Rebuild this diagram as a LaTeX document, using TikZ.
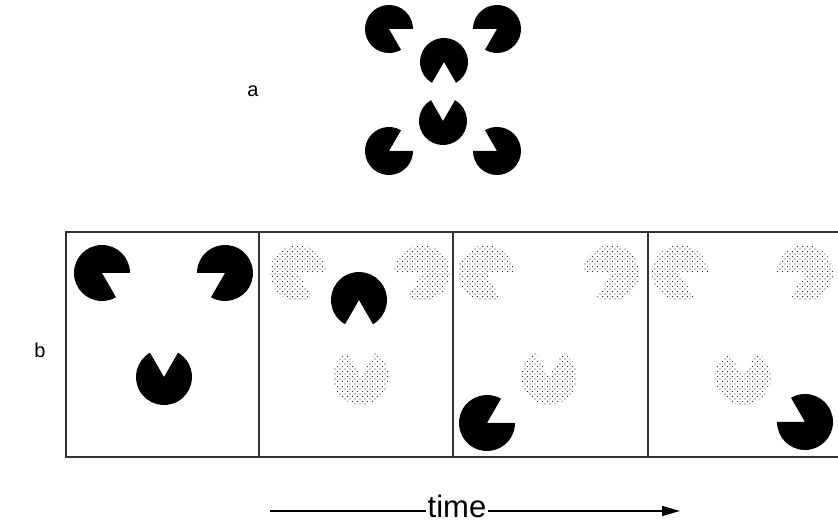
\documentclass[tikz,border=0pt]{standalone}
\usepackage{fontspec}
\setmainfont{Liberation Sans}
\usetikzlibrary{patterns,arrows.meta}
\pgfdeclarepatternformonly{stipdots}{\pgfqpoint{-1pt}{-1pt}}{\pgfqpoint{4pt}{4pt}}{\pgfqpoint{5pt}{5pt}}{%
  \pgfpathcircle{\pgfqpoint{0pt}{0pt}}{0.7pt}%
  \pgfpathcircle{\pgfqpoint{2.5pt}{2.5pt}}{0.7pt}%
  \pgfusepath{fill}}
\newcommand{\pacman}[5][solidpac]{%
  \path[#1] (#2) -- ++(#5:#3) arc[start angle=#5, end angle={#4+360}, radius=#3] -- cycle;}
\tikzset{
  solidpac/.style={fill=black},
  dotpac/.style={pattern=stipdots, pattern color=black!85},
  framebox/.style={draw=black!80, line width=1.2pt},
  lbl/.style={font=\fontsize{20}{20}\selectfont, inner sep=0pt},
}
\begin{document}
\begin{tikzpicture}[x=1pt,y=1pt]
\useasboundingbox (0,0) rectangle (838,524);
\clip (0,0) rectangle (838,524);
% part a
\node[lbl] (la) at (253,433) {a};
\pacman{389,495}{24}{-60}{0}
\pacman{497,495}{24}{180}{240}
\pacman{444,462}{24}{240}{300}
\pacman{443,403}{24}{60}{120}
\pacman{389,373}{24}{0}{60}
\pacman{497,373}{24}{120}{180}
% part b
\node[lbl] (lb) at (40,174) {b};
\draw[framebox] (842,292) -- (66,292) -- (66,67) -- (842,67);
\draw[framebox] (259,292) -- (259,67);
\draw[framebox] (453,292) -- (453,67);
\draw[framebox] (648,292) -- (648,67);
% panel 1
\pacman{102,251}{28}{-60}{0}
\pacman{225,251}{28}{180}{240}
\pacman{164,147}{28}{60}{120}
% panel 2
\pacman[dotpac]{298,251}{28}{-60}{0}
\pacman[dotpac]{422,251}{28}{180}{240}
\pacman[dotpac]{361,147}{28}{60}{120}
\pacman{359,224}{28}{240}{300}
% panel 3
\pacman[dotpac]{486,251}{28}{-60}{0}
\pacman[dotpac]{611,251}{28}{180}{240}
\pacman[dotpac]{549,147}{28}{60}{120}
\pacman{487,101}{28}{0}{60}
% panel 4
\pacman[dotpac]{680,251}{28}{-60}{0}
\pacman[dotpac]{805,251}{28}{180}{240}
\pacman[dotpac]{743,147}{28}{60}{120}
\pacman{805,102}{28}{120}{180}
% time arrow
\node[anchor=base, inner sep=1.5pt, font=\fontsize{31}{31}\selectfont] (time) at (457,6) {time};
\coordinate (tstart) at (270,13);
\coordinate (tend) at (680,13);
\draw[line width=1.4pt] (tstart) -- (tstart -| time.west);
\draw[line width=1.4pt, -{Triangle[length=18pt,width=10pt]}] (tend -| time.east) -- (tend);
\end{tikzpicture}
\end{document}
